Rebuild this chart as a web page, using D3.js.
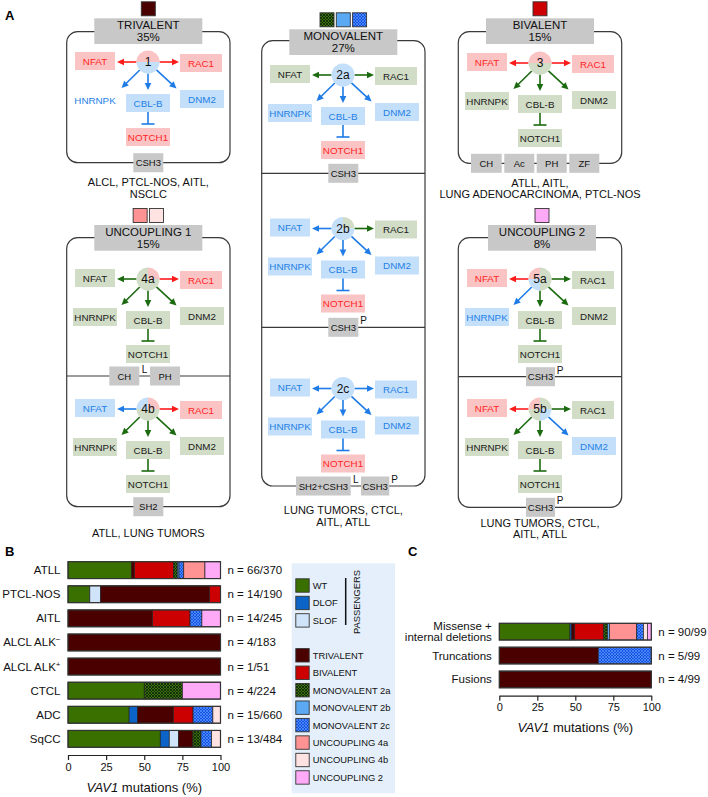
<!DOCTYPE html>
<html><head><meta charset="utf-8">
<script src="https://cdn.jsdelivr.net/npm/d3@7"></script>
<style>
body{margin:0;background:#fff}
svg{display:block}
text{font-family:"Liberation Sans",Arial,Helvetica,sans-serif}
</style>
</head><body>
<svg id="c" width="708" height="797"></svg>
<script>
// ================= DATA =================
const segKeys = ["WT","DLOF","SLOF","TRIVALENT","BIVALENT","MONOVALENT 2a","MONOVALENT 2b","MONOVALENT 2c","UNCOUPLING 4a","UNCOUPLING 4b","UNCOUPLING 2"];

const rowsB = ["ATLL","PTCL-NOS","AITL","ALCL ALK−","ALCL ALK+","CTCL","ADC","SqCC"];
const nLabelsB = ["n = 66/370","n = 14/190","n = 14/245","n = 4/183","n = 1/51","n = 4/224","n = 15/660","n = 13/484"];
const segmentsB = [
  [["WT",41.6],["TRIVALENT",2.0],["BIVALENT",25.5],["MONOVALENT 2a",2.6],["MONOVALENT 2b",1.1],["MONOVALENT 2c",3.1],["UNCOUPLING 4a",13.9],["UNCOUPLING 2",10.2]],
  [["WT",14.3],["SLOF",7.1],["TRIVALENT",71.5],["BIVALENT",7.1]],
  [["TRIVALENT",55.4],["BIVALENT",24.6],["MONOVALENT 2c",7.8],["UNCOUPLING 2",12.2]],
  [["TRIVALENT",100]],
  [["TRIVALENT",100]],
  [["WT",50],["MONOVALENT 2a",25],["UNCOUPLING 2",25]],
  [["WT",40.1],["DLOF",5.5],["TRIVALENT",23.5],["BIVALENT",12.9],["MONOVALENT 2c",13.0],["UNCOUPLING 4b",5.0]],
  [["WT",60.5],["DLOF",5.9],["SLOF",6.1],["TRIVALENT",9.4],["MONOVALENT 2a",5.3],["MONOVALENT 2c",7.0],["UNCOUPLING 4b",5.8]]
];

const rowsC = [["Missense +","internal deletions"],["Truncations"],["Fusions"]];
const nLabelsC = ["n = 90/99","n = 5/99","n = 4/99"];
const segmentsC = [
  [["WT",46.5],["DLOF",1.1],["TRIVALENT",2.0],["BIVALENT",19.1],["MONOVALENT 2a",2.4],["MONOVALENT 2b",1.3],["UNCOUPLING 4a",18.0],["MONOVALENT 2c",4.4],["UNCOUPLING 4b",2.6],["UNCOUPLING 2",2.6]],
  [["TRIVALENT",65.1],["MONOVALENT 2c",34.9]],
  [["TRIVALENT",100]]
];
const xTicks = [0,25,50,75,100];
const axisTitle = ["VAV1"," mutations (%)"];

// Panel A content
const nodeNames = ["NFAT","RAC1","HNRNPK","CBL-B","DNM2","NOTCH1"];
// states per node: up (gain), down (loss), wt
const modules = [
  {id:"1",  states:["up","up","down","down","down","up"],   quads:["up","up","down","down"], noBox:[2]},
  {id:"2a", states:["wt","wt","down","down","down","up"],   quads:["down","down","down","down"]},
  {id:"2b", states:["down","wt","down","down","down","up"], quads:["down","wt","down","down"]},
  {id:"2c", states:["down","down","down","down","down","up"], quads:["down","down","down","down"]},
  {id:"3",  states:["up","up","wt","wt","wt","wt"],         quads:["up","up","wt","wt"]},
  {id:"4a", states:["wt","up","wt","wt","wt","wt"],         quads:["wt","up","wt","wt"]},
  {id:"4b", states:["down","up","wt","wt","wt","wt"],       quads:["down","up","wt","wt"]},
  {id:"5a", states:["up","wt","down","wt","wt","wt"],       quads:["up","wt","wt","down"]},
  {id:"5b", states:["up","wt","wt","wt","down","wt"],       quads:["up","wt","down","wt"]}
];
const groups = [
  {key:"triv", title:["TRIVALENT","35%"], swatches:["TRIVALENT"], diseases:["ALCL, PTCL-NOS, AITL,","NSCLC"]},
  {key:"mono", title:["MONOVALENT","27%"], swatches:["MONOVALENT 2a","MONOVALENT 2b","MONOVALENT 2c"], diseases:["LUNG TUMORS, CTCL,","AITL, ATLL"]},
  {key:"biv",  title:["BIVALENT","15%"], swatches:["BIVALENT"], diseases:["ATLL, AITL,","LUNG ADENOCARCINOMA, PTCL-NOS"]},
  {key:"unc1", title:["UNCOUPLING 1","15%"], swatches:["UNCOUPLING 4a","UNCOUPLING 4b"], diseases:["ATLL, LUNG TUMORS"]},
  {key:"unc2", title:["UNCOUPLING 2","8%"], swatches:["UNCOUPLING 2"], diseases:["LUNG TUMORS, CTCL,","AITL, ATLL"]}
];
const domainTags = [
  ["CSH3","triv",0,null],
  ["CSH3","mono",0,null],["CSH3","mono",1,"P"],["SH2+CSH3","mono",2,"L"],["CSH3","mono",3,"P"],
  ["CH","biv",0,null],["Ac","biv",1,null],["PH","biv",2,null],["ZF","biv",3,null],
  ["CH","unc1",0,"L"],["PH","unc1",1,null],["SH2","unc1",2,null],
  ["CSH3","unc2",0,"P"],["CSH3","unc2",1,"P"]
];

// ================= STYLE / LAYOUT =================
const segColor = {
  "WT":"#3a7000","DLOF":"#0c63c8","SLOF":"#cfe4f8","TRIVALENT":"#4b0000","BIVALENT":"#cc0000",
  "MONOVALENT 2a":"url(#hatchGreen)","MONOVALENT 2b":"#5ba9f2","MONOVALENT 2c":"url(#hatchBlue)",
  "UNCOUPLING 4a":"#ff9393","UNCOUPLING 4b":"#ffe2e2","UNCOUPLING 2":"#ffaaf7"
};
const boxFill = {up:"#fbc4c4", down:"#c4dffa", wt:"#d1ddc6"};
const boxText = {up:"#ff2424", down:"#1e7fe6", wt:"#1a1a1a"};
const arrowCol = {up:"#ff1a1a", down:"#1f7be6", wt:"#1c6a10"};

const modLayout = {
  "1":{cx:148,cy:62}, "2a":{cx:343,cy:75}, "2b":{cx:343,cy:228.5}, "2c":{cx:343,cy:388.5},
  "3":{cx:540,cy:63}, "4a":{cx:148,cy:279}, "4b":{cx:148,cy:409}, "5a":{cx:540,cy:279}, "5b":{cx:540,cy:409}
};
const nodeLayout = [
  {dx:-53,dy:-1,w:40}, {dx:53,dy:1,w:42}, {dx:-53,dy:38,w:44},
  {dx:0,dy:41,w:44}, {dx:54,dy:37,w:44}, {dx:0,dy:75,w:44}
];
const arrowTips = [[-31,0],[31,0],[-26.5,26],[0,28],[28.5,26.5]];
const groupLayout = {
  triv:{x0:66.7,x1:230,y0:31.7,y1:162.7,tx:148.3,ty:18.3,dy:[185.5,198],dividers:[], lines:[162.7]},
  mono:{x0:261.7,x1:425,y0:40.7,y1:486,tx:343.3,ty:29.3,dy:[514,525.7],dividers:[173.3,327.3], lines:[173.3,327.3,486,486]},
  biv:{x0:458.3,x1:621.7,y0:31.7,y1:163.3,tx:540,ty:18.3,dy:[186.5,198.3],dividers:[], lines:[163.3,163.3,163.3,163.3]},
  unc1:{x0:66.7,x1:230,y0:237.7,y1:506.7,tx:148.3,ty:225,dy:[537],dividers:[376], lines:[376,376,506.7]},
  unc2:{x0:458.3,x1:621.7,y0:237.7,y1:507.3,tx:542,ty:225,dy:[526.5,538.3],dividers:[376.7], lines:[376.7,507.3]}
};
const tagX = {
  triv:[[133.3,163.3]],
  mono:[[328.3,358.3],[328.3,358.3],[296,350.7],[361,389.3]],
  biv:[[471,501.7],[504.3,534.3],[536.7,566.7],[569.3,599.3]],
  unc1:[[109.3,139.3],[150,180],[133.3,163.3]],
  unc2:[[526,555],[526,555]]
};

const svg = d3.select("#c");
const defs = svg.append("defs");
// hatch patterns
const pg = defs.append("pattern").attr("id","hatchGreen").attr("patternUnits","userSpaceOnUse").attr("width",3).attr("height",3);
pg.append("rect").attr("width",3).attr("height",3).attr("fill","#3b7210");
pg.append("path").attr("d","M0,3L3,0M0,0L3,3").attr("stroke","#0d1f05").attr("stroke-width",0.8);
const pb = defs.append("pattern").attr("id","hatchBlue").attr("patternUnits","userSpaceOnUse").attr("width",3).attr("height",3);
pb.append("rect").attr("width",3).attr("height",3).attr("fill","#1650e4");
pb.append("path").attr("d","M0,3L3,0M0,0L3,3").attr("stroke","#62a6ff").attr("stroke-width",0.6);

// ================= PANEL LABELS =================
[["A",5,20],["B",5,556],["C",408,556]].forEach(([t,x,y])=>{
  svg.append("text").attr("x",x).attr("y",y).attr("font-size",13).attr("font-weight","bold").text(t);
});

// ================= PANEL A =================
const gA = svg.append("g");
groups.forEach(g=>{
  const L = groupLayout[g.key];
  gA.append("rect").attr("x",L.x0).attr("y",L.y0).attr("width",L.x1-L.x0).attr("height",L.y1-L.y0)
    .attr("rx",11).attr("fill","none").attr("stroke","#3a3a3a").attr("stroke-width",1.2);
  L.dividers.forEach(y=>{
    gA.append("line").attr("x1",L.x0).attr("x2",L.x1).attr("y1",y).attr("y2",y).attr("stroke","#3a3a3a").attr("stroke-width",1.2);
  });
  gA.append("rect").attr("x",L.tx-54).attr("y",L.ty).attr("width",108).attr("height",25.7).attr("fill","#c8c8c8");
  g.title.forEach((t,i)=>{
    gA.append("text").attr("x",L.tx).attr("y",L.ty+11+i*12).attr("text-anchor","middle").attr("font-size",11.5).attr("fill","#111").text(t);
  });
  const n = g.swatches.length, s = 14, gap = 2.3;
  const sx0 = L.tx - (n*s+(n-1)*gap)/2;
  g.swatches.forEach((k,i)=>{
    gA.append("rect").attr("x",sx0+i*(s+gap)).attr("y",L.ty-16.5).attr("width",s).attr("height",s)
      .attr("fill",segColor[k]).attr("stroke","#333").attr("stroke-width",0.9);
  });
  g.diseases.forEach((t,i)=>{
    gA.append("text").attr("x",(L.x0+L.x1)/2).attr("y",L.dy[i]).attr("text-anchor","middle").attr("font-size",11).attr("fill","#111").text(t);
  });
});

domainTags.forEach(([label,gk,idx,sup])=>{
  const L = groupLayout[gk];
  const [x0,x1] = tagX[gk][idx];
  const y = L.lines[idx];
  gA.append("rect").attr("x",x0).attr("y",y-9.5).attr("width",x1-x0).attr("height",19).attr("fill","#c8c8c8");
  gA.append("text").attr("x",(x0+x1)/2).attr("y",y+3.5).attr("text-anchor","middle").attr("font-size",9.5).attr("fill","#111").text(label);
  if(sup){
    gA.append("text").attr("x",x1+5.2).attr("y",y-3).attr("text-anchor","middle").attr("font-size",10).attr("fill","#111").text(sup);
  }
});

function arrowHead(g, x1,y1,x2,y2,col){
  const a = Math.atan2(y2-y1,x2-x1), len=7, hw=3.3;
  const bx = x2 - len*Math.cos(a), by = y2 - len*Math.sin(a);
  const px = -Math.sin(a)*hw, py = Math.cos(a)*hw;
  g.append("line").attr("x1",x1).attr("y1",y1).attr("x2",bx+Math.cos(a)).attr("y2",by+Math.sin(a))
    .attr("stroke",col).attr("stroke-width",1.6);
  g.append("path").attr("d",`M${x2},${y2}L${bx+px},${by+py}L${bx-px},${by-py}Z`).attr("fill",col);
}

const r = 11.5;
const arc = d3.arc().innerRadius(0).outerRadius(r);
modules.forEach(m=>{
  const {cx,cy} = modLayout[m.id];
  const g = gA.append("g");
  nodeNames.forEach((nm,i)=>{
    const nl = nodeLayout[i], st = m.states[i];
    const x = cx+nl.dx, y = cy+nl.dy;
    const hide = m.noBox && m.noBox.includes(i);
    if(!hide) g.append("rect").attr("x",x-nl.w/2).attr("y",y-9).attr("width",nl.w).attr("height",18).attr("fill",boxFill[st]);
    g.append("text").attr("x",x).attr("y",y+3.5).attr("text-anchor","middle").attr("font-size",9.8).attr("fill",boxText[st]).text(nm);
  });
  arrowTips.forEach(([tx,ty],i)=>{
    const a = Math.atan2(ty,tx);
    const col = arrowCol[m.states[i]];
    arrowHead(g, cx+r*Math.cos(a), cy+r*Math.sin(a), cx+tx, cy+ty, col);
  });
  const ic = arrowCol[m.states[3]];
  g.append("line").attr("x1",cx).attr("x2",cx).attr("y1",cy+50).attr("y2",cy+62).attr("stroke",ic).attr("stroke-width",1.6);
  g.append("line").attr("x1",cx-6.5).attr("x2",cx+6.5).attr("y1",cy+62).attr("y2",cy+62).attr("stroke",ic).attr("stroke-width",1.6);
  const qa = [[-Math.PI/2,0],[0,Math.PI/2],[Math.PI/2,Math.PI],[Math.PI,1.5*Math.PI]];
  m.quads.forEach((q,i)=>{
    g.append("path").attr("transform",`translate(${cx},${cy})`)
      .attr("d",arc({startAngle:qa[i][0],endAngle:qa[i][1]})).attr("fill",boxFill[q]);
  });
  g.append("text").attr("x",cx).attr("y",cy+4.2).attr("text-anchor","middle").attr("font-size",12).attr("fill","#111").text(m.id);
});

// ================= BAR PANELS =================
function barPanel(rows, nLabels, segments, xr, yr, axisY){
  const g = svg.append("g");
  const x = d3.scaleLinear().domain([0,100]).range(xr);
  const y = d3.scaleBand().domain(d3.range(rows.length)).range(yr).paddingInner(0.3).paddingOuter(0.15);
  rows.forEach((lab,i)=>{
    let acc = 0;
    const y0 = y(i), h = y.bandwidth();
    segments[i].forEach(([k,v])=>{
      g.append("rect").attr("x",x(acc)).attr("y",y0).attr("width",x(acc+v)-x(acc)).attr("height",h)
        .attr("fill",segColor[k]).attr("stroke","#222").attr("stroke-width",0.7);
      acc += v;
    });
    g.append("rect").attr("x",x(0)).attr("y",y0).attr("width",x(100)-x(0)).attr("height",h)
      .attr("fill","none").attr("stroke","#333").attr("stroke-width",1.2);
    const cy = y0+h/2;
    const labs = Array.isArray(lab)?lab:[lab];
    labs.forEach((t,j)=>{
      const ty = cy + 4 + (j-(labs.length-1)/2)*10.5;
      const te = g.append("text").attr("x",xr[0]-7.5).attr("y",ty).attr("text-anchor","end").attr("font-size",11.5).attr("fill","#111");
      const m = t.match(/^(.*ALK)([−+])$/);
      if(m){
        te.append("tspan").text(m[1]);
        te.append("tspan").attr("font-size",8).attr("dy",-4).text(m[2]);
      } else te.text(t);
    });
    g.append("text").attr("x",xr[1]+7).attr("y",cy+4).attr("font-size",11.5).attr("fill","#111").text(nLabels[i]);
  });
  const ax = g.append("g").attr("transform",`translate(0,${axisY})`)
    .call(d3.axisBottom(x).tickValues(xTicks).tickSize(5).tickSizeOuter(0).tickFormat(d3.format("d")));
  ax.select(".domain").attr("stroke","#222").attr("stroke-width",1.2);
  ax.selectAll(".tick line").attr("stroke","#222").attr("stroke-width",1.2);
  ax.selectAll(".tick text").attr("font-size",11).attr("fill","#111").attr("font-family","Liberation Sans, Arial, sans-serif");
  const tt = g.append("text").attr("x",(xr[0]+xr[1])/2).attr("y",axisY+36.5).attr("text-anchor","middle").attr("font-size",13).attr("fill","#111");
  tt.append("tspan").attr("font-style","italic").text(axisTitle[0]);
  tt.append("tspan").text(axisTitle[1]);
}
barPanel(rowsB, nLabelsB, segmentsB, [68,220.5], [558.1,750.9], 755);
barPanel(rowsC, nLabelsC, segmentsC, [499.3,651.3], [619.7,691.4], 695.7);

// ================= LEGEND =================
const lg = svg.append("g");
lg.append("rect").attr("x",291.7).attr("y",563.3).attr("width",103.3).attr("height",230).attr("fill","#e4effb");
segKeys.forEach((k,i)=>{
  const slot = i<3 ? i : i+1;
  const yc = 585.5 + slot*17.45;
  lg.append("rect").attr("x",295.8).attr("y",yc-6.7).attr("width",13.4).attr("height",13.4)
    .attr("fill",segColor[k]).attr("stroke","#333").attr("stroke-width",0.9);
  lg.append("text").attr("x",312.7).attr("y",yc+3.4).attr("font-size",9.4).attr("fill","#111").text(k);
});
lg.append("line").attr("x1",345.7).attr("x2",345.7).attr("y1",578).attr("y2",625).attr("stroke","#111").attr("stroke-width",1.5);
lg.append("text").attr("transform","translate(359.5,602) rotate(-90)").attr("text-anchor","middle").attr("font-size",9.4).attr("fill","#111").text("PASSENGERS");
</script>
</body></html>
